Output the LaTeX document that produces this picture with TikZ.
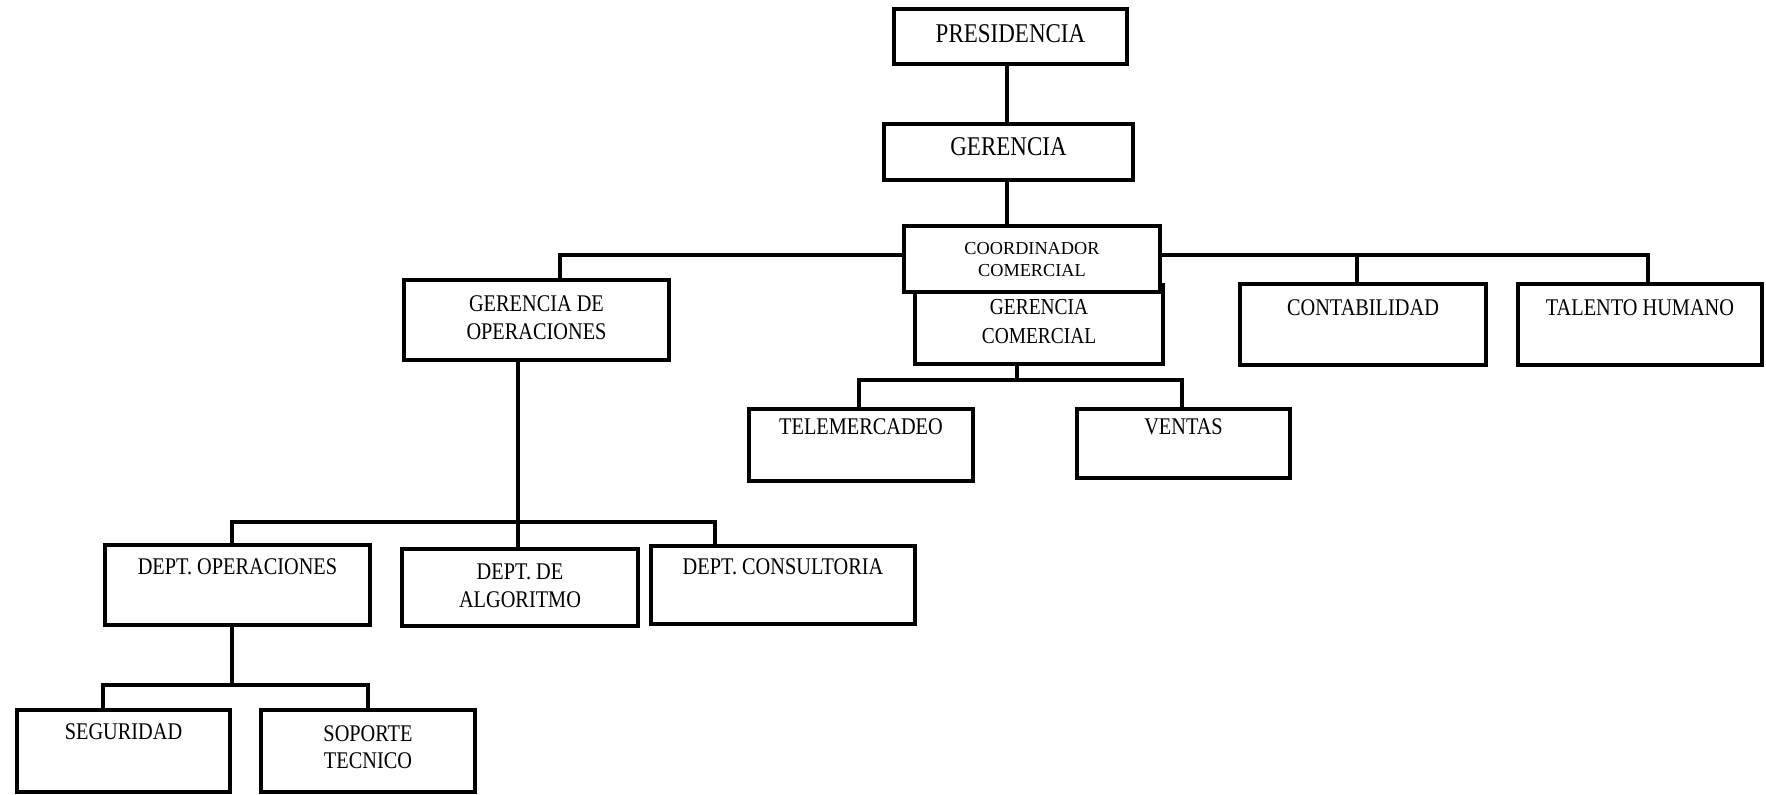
\documentclass[tikz,border=0pt]{standalone}
\usepackage{fontspec}
\setmainfont{Liberation Serif}
\newfontfamily\narrowserif[FakeStretch=0.85]{Liberation Serif}

\begin{document}
\begin{tikzpicture}[
  unit/.style={draw, line width=1.35pt, fill=white, inner sep=0pt, align=center,
               font=\narrowserif\fontsize{6.8}{8}\selectfont},
  dims/.style n args={3}{minimum width=#1cm, text height=#2cm, text depth=#3cm},
  big/.style={font=\narrowserif\fontsize{7.7}{9}\selectfont},
  link/.style={line width=0.9pt, line join=miter},
]
  \useasboundingbox (0,0) rectangle (17.66,-7.95);

  % top levels
  \node[unit, big, dims={2.33}{0.34}{0.21}] (pre) at (10.105,-0.365) {PRESIDENCIA};
  \node[unit, big, dims={2.49}{0.32}{0.24}] (ger) at (10.085,-1.52) {GERENCIA};

  % second level
  \node[unit, dims={2.65}{0.60}{0.20}] (gop) at (5.365,-3.20) {GERENCIA DE\\OPERACIONES};
  \node[unit, font=\narrowserif\fontsize{6.5}{8.25}\selectfont, dims={2.48}{0.59}{0.20}]
    (gco) at (10.39,-3.245) {GERENCIA\\COMERCIAL};
  \node[unit, dims={2.46}{0.32}{0.49}] (con) at (13.63,-3.245) {CONTABILIDAD};
  \node[unit, dims={2.44}{0.32}{0.49}] (tal) at (16.40,-3.245) {TALENTO HUMANO};

  % comercial
  \node[unit, dims={2.24}{0.26}{0.46}] (tel) at (8.61,-4.45) {TELEMERCADEO};
  \node[unit, dims={2.13}{0.26}{0.43}] (ven) at (11.835,-4.435) {VENTAS};

  % departamentos
  \node[unit, dims={2.65}{0.30}{0.50}] (dop) at (2.375,-5.85) {DEPT. OPERACIONES};
  \node[unit, dims={2.36}{0.59}{0.18}] (dal) at (5.20,-5.875) {DEPT. DE\\ALGORITMO};
  \node[unit, dims={2.64}{0.29}{0.49}] (dco) at (7.83,-5.85) {DEPT. CONSULTORIA};

  \node[unit, dims={2.13}{0.30}{0.52}] (seg) at (1.235,-7.51) {SEGURIDAD};
  \node[unit, font=\narrowserif\fontsize{6.8}{7.7}\selectfont, dims={2.14}{0.59}{0.23}]
    (sop) at (3.68,-7.51) {SOPORTE\\TECNICO};

  % junctions of the connectors
  \coordinate (j-ger) at (10.07,-2.55);
  \coordinate (j-gop) at (5.60,-2.55);
  \coordinate (j-con) at (13.57,-2.55);
  \coordinate (j-tal) at (16.48,-2.55);
  \coordinate (j-gco) at (10.17,-3.80);
  \coordinate (j-tel) at (8.59,-3.80);
  \coordinate (j-ven) at (11.82,-3.80);
  \coordinate (j-dal) at (5.18,-5.22);
  \coordinate (j-dop) at (2.32,-5.22);
  \coordinate (j-dco) at (7.15,-5.22);
  \coordinate (j-sub) at (2.32,-6.85);
  \coordinate (j-seg) at (1.03,-6.85);
  \coordinate (j-sop) at (3.68,-6.85);

  \draw[link] (pre.south -| j-ger) -- (ger.north -| j-ger);
  \draw[link] (ger.south -| j-ger) -- (j-ger);
  \draw[link] (j-gop |- gop.north) -- (j-gop) -- (j-tal) -- (j-tal |- tal.north);
  \draw[link] (j-con) -- (j-con |- con.north);

  \draw[link] (gco.south -| j-gco) -- (j-gco);
  \draw[link] (j-tel |- tel.north) -- (j-tel) -- (j-ven) -- (j-ven |- ven.north);

  \draw[link] (gop.south -| j-dal) -- (j-dal |- dal.north);
  \draw[link] (j-dop |- dop.north) -- (j-dop) -- (j-dco) -- (j-dco |- dco.north);

  \draw[link] (dop.south -| j-sub) -- (j-sub);
  \draw[link] (j-seg |- seg.north) -- (j-seg) -- (j-sop) -- (j-sop |- sop.north);

  % sits over the main bus
  \node[unit, font=\fontsize{5.2}{6.3}\selectfont, dims={2.56}{0.51}{0.15}]
    (coo) at (10.32,-2.59) {COORDINADOR\\COMERCIAL};
\end{tikzpicture}
\end{document}
